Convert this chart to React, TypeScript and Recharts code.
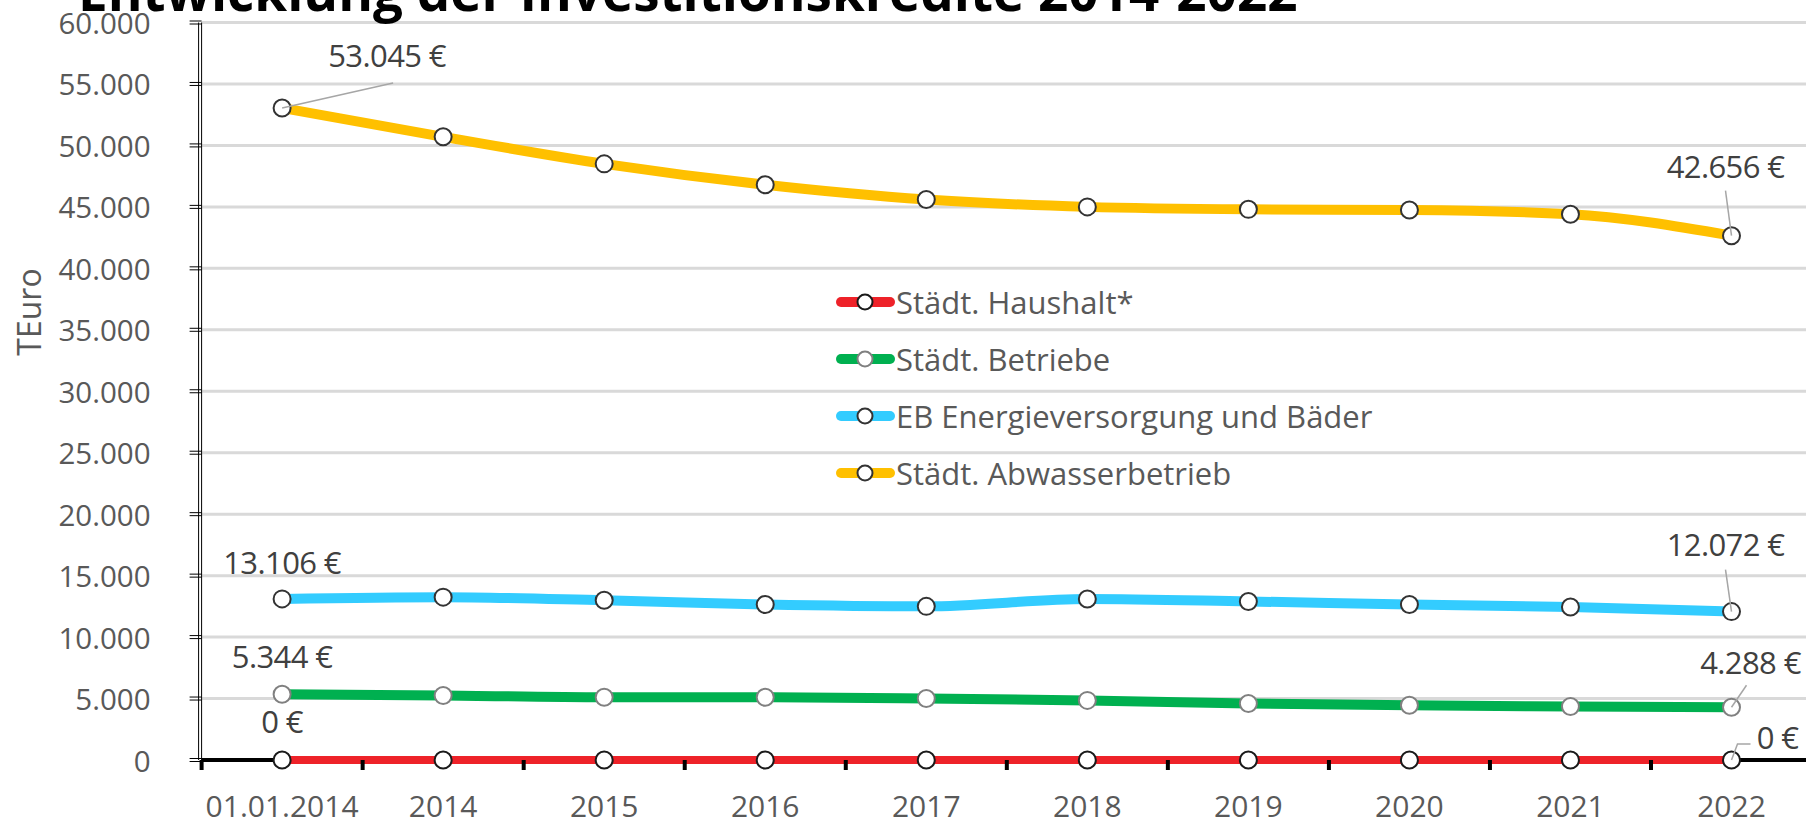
import React from 'react';
import { LineChart, Line, XAxis, YAxis, CartesianGrid, Legend, LabelList } from 'recharts';

const categories = ['01.01.2014', '2014', '2015', '2016', '2017', '2018', '2019', '2020', '2021', '2022'];
const haushalt = [0, 0, 0, 0, 0, 0, 0, 0, 0, 0];
const betriebe = [5344, 5250, 5100, 5100, 5000, 4850, 4600, 4450, 4350, 4288];
const energie = [13106, 13250, 13000, 12650, 12500, 13100, 12900, 12650, 12450, 12072];
const abwasser = [53045, 50700, 48500, 46800, 45600, 45000, 44800, 44750, 44400, 42656];
const yTicks = [0, 5000, 10000, 15000, 20000, 25000, 30000, 35000, 40000, 45000, 50000, 55000, 60000];

const data = categories.map((cat, i) => ({
  cat,
  haushalt: haushalt[i],
  betriebe: betriebe[i],
  energie: energie[i],
  abwasser: abwasser[i],
}));

const FONT = '"Open Sans", "Noto Sans", sans-serif';
const HALF_BAND = 80.5;

const fmt = (v: number) => String(Math.round(v)).replace(/\B(?=(\d{3})+(?!\d))/g, '.');

const series = [
  { key: 'haushalt', name: 'Städt. Haushalt*', color: '#ee2229', width: 8, dot: '#1a1a1a' },
  { key: 'betriebe', name: 'Städt. Betriebe', color: '#00b050', width: 10, dot: '#808080' },
  { key: 'energie', name: 'EB Energieversorgung und Bäder', color: '#33ccff', width: 10, dot: '#333333' },
  { key: 'abwasser', name: 'Städt. Abwasserbetrieb', color: '#ffc000', width: 10, dot: '#333333' },
];

// label offsets for the first / last point of each series, relative to the point
const labelPos: Record<string, any> = {
  haushalt: {
    first: { dx: 0, dy: -39 },
    last: { dx: 46, dy: -23, lead: [[6, -16], [19, -16]] },
  },
  betriebe: {
    first: { dx: 0, dy: -38 },
    last: { dx: 19, dy: -45, lead: [[15, -22]] },
  },
  energie: {
    first: { dx: 0, dy: -37 },
    last: { dx: -6, dy: -68, lead: [[-6, -42]] },
  },
  abwasser: {
    first: { dx: 105, dy: -53, lead: [[111, -25]] },
    last: { dx: -6, dy: -70, lead: [[-6, -45]] },
  },
};

const makeLabel = (key: string) => (props: any) => {
  const { index, value } = props;
  const x = props.viewBox?.x ?? props.x;
  const y = props.viewBox?.y ?? props.y;
  const last = categories.length - 1;
  if (index !== 0 && index !== last) return null;
  const pos = labelPos[key][index === 0 ? 'first' : 'last'];
  const pts = pos.lead ? [[0, 0], ...pos.lead].map((p: number[]) => `${x + p[0]},${y + p[1]}`).join(' ') : null;
  return (
    <g>
      {pts && <polyline points={pts} fill="none" stroke="#a6a6a6" strokeWidth={1.5} />}
      <text
        x={x + pos.dx}
        y={y + pos.dy}
        textAnchor="middle"
        dominantBaseline="central"
        fontFamily={FONT}
        fontSize={31}
        letterSpacing={-0.6}
        fill="#404040"
      >
        {fmt(value)} €
      </text>
    </g>
  );
};

const XTick = (props: any) => {
  const { x, y, payload } = props;
  return (
    <g>
      <line x1={x - HALF_BAND} x2={x - HALF_BAND} y1={y} y2={y + 10} stroke="#000" strokeWidth={4} />
      <text x={x} y={y + 45} textAnchor="middle" dominantBaseline="central" fontFamily={FONT} fontSize={30} fill="#595959">
        {payload.value}
      </text>
    </g>
  );
};

const YTick = (props: any) => {
  const { x, y, payload } = props;
  return (
    <g>
      <line x1={x - 9} x2={x + 3} y1={y - 1.5} y2={y - 1.5} stroke="#000" strokeWidth={1} />
      <line x1={x - 9} x2={x + 3} y1={y + 1.5} y2={y + 1.5} stroke="#000" strokeWidth={1} />
      <text x={x - 48} y={y} textAnchor="end" dominantBaseline="central" fontFamily={FONT} fontSize={29.5} fill="#595959">
        {fmt(payload.value)}
      </text>
    </g>
  );
};

const renderLegend = (props: any) => {
  const payload = [...(props.payload || [])].sort(
    (a: any, b: any) => series.findIndex((s) => s.name === a.value) - series.findIndex((s) => s.name === b.value)
  );
  return (
    <div style={{ fontFamily: FONT, fontSize: 31, color: '#595959' }}>
      {payload.map((e: any) => {
        const s = series.find((q) => q.name === e.value);
        return (
          <div key={e.value} style={{ display: 'flex', alignItems: 'center', height: 57 }}>
            <svg width={61} height={22} style={{ display: 'block' }}>
              <line x1={6} x2={55} y1={11} y2={11} stroke={e.color} strokeWidth={10} strokeLinecap="round" />
              <circle cx={30} cy={11} r={7.5} fill="#fff" stroke={s ? s.dot : '#333'} strokeWidth={2} />
            </svg>
            <span style={{ whiteSpace: 'nowrap' }}>{e.value}</span>
          </div>
        );
      })}
    </div>
  );
};

export default function App() {
  return (
    <div style={{ position: 'absolute', left: 0, top: 0, width: 1806, height: 821, overflow: 'hidden', background: '#fff' }}>
      <LineChart width={1812} height={821} data={data} margin={{ top: 22.5, right: 0, bottom: 0, left: 0 }}>
        <CartesianGrid vertical={false} stroke="#d9d9d9" strokeWidth={3} yAxisId="main" />
        <XAxis
          dataKey="cat"
          interval={0}
          height={61}
          zIndex={300}
          padding={{ left: HALF_BAND, right: HALF_BAND }}
          axisLine={{ stroke: '#000', strokeWidth: 4 }}
          tickLine={false}
          tickSize={0}
          tickMargin={0}
          tick={<XTick />}
        />
        <YAxis yAxisId="inner" width={3} domain={[0, 60000]} tick={false} tickLine={false} axisLine={{ stroke: '#000', strokeWidth: 1 }} />
        <YAxis
          yAxisId="main"
          width={198.6}
          domain={[0, 60000]}
          ticks={yTicks}
          interval={0}
          tickLine={false}
          tickSize={0}
          tickMargin={0}
          axisLine={{ stroke: '#000', strokeWidth: 1 }}
          tick={<YTick />}
          label={{
            content: () => (
              <text x={28} y={312} transform="rotate(-90 28 312)" textAnchor="middle" dominantBaseline="central" fontFamily={FONT} fontSize={32} fill="#595959">
                TEuro
              </text>
            ),
          }}
        />
        <Legend
          layout="vertical"
          align="center"
          verticalAlign="middle"
          content={renderLegend}
          wrapperStyle={{ left: 835, top: 273.5, width: 560 }}
        />
        {series.map((s) => (
          <Line
            key={s.key}
            yAxisId="main"
            type="monotone"
            dataKey={s.key}
            name={s.name}
            stroke={s.color}
            strokeWidth={s.width}
            zIndex={600}
            dot={{ r: 8.5, fill: '#fff', stroke: s.dot, strokeWidth: 2 }}
            activeDot={false}
            isAnimationActive={false}
          >
            <LabelList dataKey={s.key} content={makeLabel(s.key)} />
          </Line>
        ))}
      </LineChart>
      <svg width={1806} height={60} style={{ position: 'absolute', left: 0, top: 0 }}>
        <text x={78} y={11} fontFamily={FONT} fontWeight="bold" fontSize={53} fill="#000">
          Entwicklung der Investitionskredite 2014-2022
        </text>
      </svg>
    </div>
  );
}
